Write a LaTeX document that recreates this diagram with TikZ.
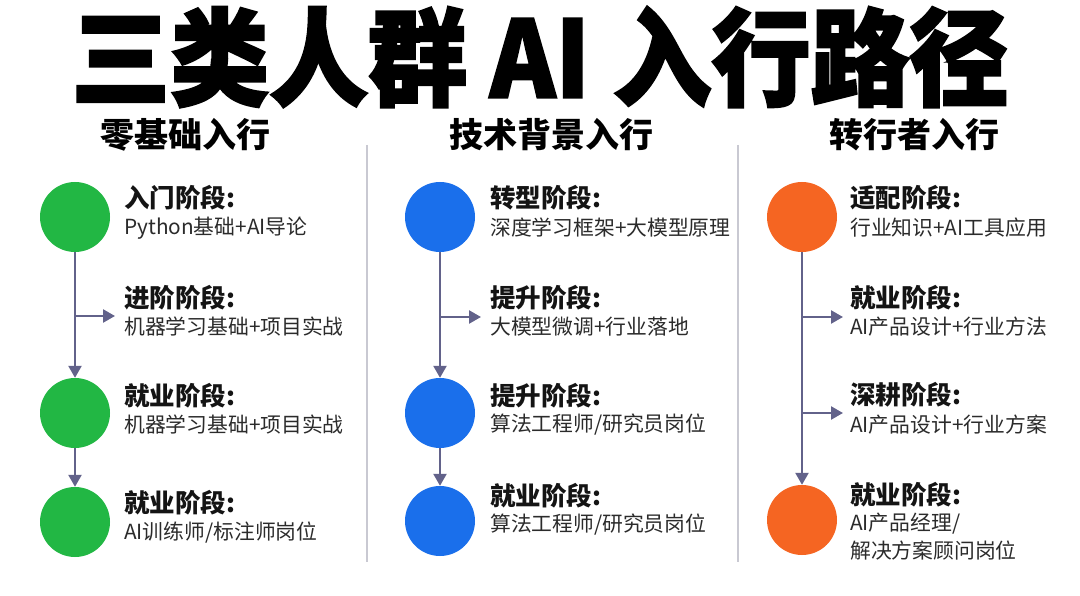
\documentclass[tikz,border=0pt]{standalone}
\usepackage{fontspec}
\setmainfont{Noto Sans CJK SC}
\newfontfamily\titlefont[FakeBold=2.2]{Noto Sans CJK SC}
\usetikzlibrary{arrows.meta}
\definecolor{cgreen}{HTML}{22B744}
\definecolor{cblue}{HTML}{1A6FEB}
\definecolor{corange}{HTML}{F56522}
\definecolor{conn}{HTML}{62628A}
\definecolor{divc}{HTML}{C9C9D2}
\definecolor{subc}{HTML}{2B2B2B}
\tikzset{
  dot/.style={circle, minimum size=70pt, inner sep=0pt, draw=none},
  gdot/.style={dot, fill=cgreen},
  bdot/.style={dot, fill=cblue},
  odot/.style={dot, fill=corange},
  stage/.style={anchor=west, inner sep=0pt, font=\fontsize{25.5}{28}\selectfont\bfseries, text=black!92},
  sub/.style={anchor=west, inner sep=0pt, font=\fontsize{20.8}{24}\selectfont, text=subc},
  sub2/.style={anchor=north west, inner sep=0pt, align=left, font=\fontsize{20.8}{27.5}\selectfont, text=subc},
  head/.style={inner sep=0pt, font=\fontsize{34}{40}\selectfont\bfseries, text=black},
  link/.style={draw=conn, line width=2.4pt, -{Triangle[length=12pt,width=13pt]}},
  divider/.style={draw=divc, line width=2pt}
}
\begin{document}
\begin{tikzpicture}[x=1pt,y=-1pt]
\useasboundingbox[fill=white] (0,0) rectangle (1080,596);
% title
\node[inner sep=0pt, font=\titlefont\bfseries\fontsize{99}{102}\selectfont] (title) at (540,57) {\scalebox{1}[1.07]{三类人群 AI 入行路径}};
% headers
\node[head] (h1) at (185,135) {零基础入行};
\node[head] (h2) at (551,135) {技术背景入行};
\node[head] (h3) at (914,135) {转行者入行};
% dividers
\coordinate (d1a) at (367,145); \coordinate (d1b) at (367,562);
\coordinate (d2a) at (738,145); \coordinate (d2b) at (738,562);
\draw[divider] (d1a) -- (d1b);
\draw[divider] (d2a) -- (d2b);

% ---------- column 1 ----------
\node[gdot] (g1) at (75,217) {};
\node[gdot] (g2) at (75,413) {};
\node[gdot] (g3) at (75,522) {};
\node[stage] (g1t) at (124,198) {入门阶段:};
\node[sub]   (g1s) at (124,228) {Python基础+AI导论};
\node[stage] (gbt) at (124,298) {进阶阶段:};
\node[sub]   (gbs) at (124,327) {机器学习基础+项目实战};
\node[stage] (g2t) at (124,396) {就业阶段:};
\node[sub]   (g2s) at (124,425) {机器学习基础+项目实战};
\node[stage] (g3t) at (124,503) {就业阶段:};
\node[sub]   (g3s) at (124,533) {AI训练师/标注师岗位};
\coordinate (gb) at (75,316);
\coordinate (ga) at (115,316);
\draw[link] (g1) -- (g2);
\draw[link] (gb) -- (ga);
\draw[link] (g2) -- (g3);

% ---------- column 2 ----------
\node[bdot] (b1) at (440,217) {};
\node[bdot] (b2) at (440,413) {};
\node[bdot] (b3) at (440,521) {};
\node[stage] (b1t) at (490,198) {转型阶段:};
\node[sub]   (b1s) at (490,228) {深度学习框架+大模型原理};
\node[stage] (bbt) at (490,298) {提升阶段:};
\node[sub]   (bbs) at (490,327) {大模型微调+行业落地};
\node[stage] (b2t) at (490,396) {提升阶段:};
\node[sub]   (b2s) at (490,425) {算法工程师/研究员岗位};
\node[stage] (b3t) at (490,496) {就业阶段:};
\node[sub]   (b3s) at (490,525) {算法工程师/研究员岗位};
\coordinate (bb) at (440,317);
\coordinate (ba) at (481,317);
\draw[link] (b1) -- (b2);
\draw[link] (bb) -- (ba);
\draw[link] (b2) -- (b3);

% ---------- column 3 ----------
\node[odot] (o1) at (802,217) {};
\node[odot] (o2) at (802,520) {};
\node[stage] (o1t) at (850,198) {适配阶段:};
\node[sub]   (o1s) at (850,228) {行业知识+AI工具应用};
\node[stage] (oat) at (850,298) {就业阶段:};
\node[sub]   (oas) at (850,327) {AI产品设计+行业方法};
\node[stage] (obt) at (850,395) {深耕阶段:};
\node[sub]   (obs) at (850,425) {AI产品设计+行业方案};
\node[stage] (o2t) at (850,495) {就业阶段:};
\node[sub2]  (o2s) at (850,513) {AI产品经理/\\解决方案顾问岗位};
\coordinate (oa) at (802,317);
\coordinate (oaa) at (843,317);
\coordinate (ob) at (802,413);
\coordinate (oba) at (843,413);
\draw[link] (o1) -- (o2);
\draw[link] (oa) -- (oaa);
\draw[link] (ob) -- (oba);
\end{tikzpicture}
\end{document}
